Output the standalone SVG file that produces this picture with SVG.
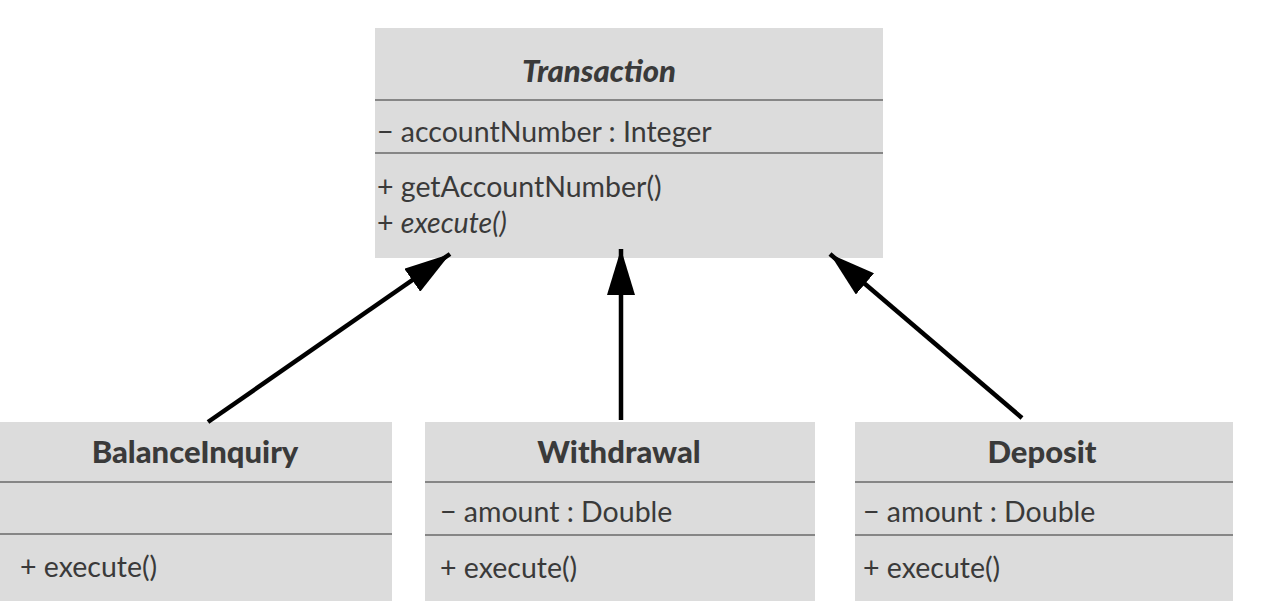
<svg xmlns="http://www.w3.org/2000/svg" width="1268" height="601" viewBox="0 0 1268 601">
<defs>
<marker id="tri" viewBox="0 0 46 28" refX="46" refY="14" markerWidth="46" markerHeight="28" markerUnits="userSpaceOnUse" orient="auto">
<path d="M0,0 L46,14 L0,28 Z" fill="#000"/>
</marker>
</defs>
<style>
.box{fill:#dcdcdc;}
.sep{stroke:#6a6a6a;stroke-width:1.5;}
.t{font-family:Lato,"Open Sans","Liberation Sans",sans-serif;fill:#3a3a3a;font-size:28.5px;}
.title{font-weight:900;text-anchor:middle;font-size:31px;}
.conn{stroke:#000;stroke-width:4.5;fill:none;marker-end:url(#tri);}
</style>
<rect width="1268" height="601" fill="#fff"/>
<g id="Transaction">
<rect class="box" x="375" y="28" width="508" height="230"/>
<line class="sep" x1="375" y1="100" x2="883" y2="100"/>
<line class="sep" x1="375" y1="153" x2="883" y2="153"/>
<text class="t title" x="599" y="82" font-style="italic">Transaction</text>
<text class="t" x="377" y="142">− accountNumber : Integer</text>
<text class="t" x="377" y="197">+ getAccountNumber()</text>
<text class="t" x="377" y="233">+ <tspan font-style="italic">execute()</tspan></text>
</g>
<g id="BalanceInquiry">
<rect class="box" x="0" y="422" width="392" height="179"/>
<line class="sep" x1="0" y1="482" x2="392" y2="482"/>
<line class="sep" x1="0" y1="534" x2="392" y2="534"/>
<text class="t title" x="195" y="463">BalanceInquiry</text>
<text class="t" x="20" y="577">+ execute()</text>
</g>
<g id="Withdrawal">
<rect class="box" x="425" y="422" width="390" height="179"/>
<line class="sep" x1="425" y1="482" x2="815" y2="482"/>
<line class="sep" x1="425" y1="535" x2="815" y2="535"/>
<text class="t title" x="619" y="463">Withdrawal</text>
<text class="t" x="440" y="522">− amount : Double</text>
<text class="t" x="440" y="578">+ execute()</text>
</g>
<g id="Deposit">
<rect class="box" x="855" y="422" width="378" height="179"/>
<line class="sep" x1="855" y1="482" x2="1233" y2="482"/>
<line class="sep" x1="855" y1="535" x2="1233" y2="535"/>
<text class="t title" x="1042" y="463">Deposit</text>
<text class="t" x="863" y="522">− amount : Double</text>
<text class="t" x="863" y="578">+ execute()</text>
</g>
<g id="connectors">
<line class="conn" x1="208" y1="422" x2="450" y2="254"/>
<line class="conn" x1="621" y1="420" x2="621" y2="249"/>
<line class="conn" x1="1022" y1="418" x2="830" y2="254"/>
</g>
</svg>
